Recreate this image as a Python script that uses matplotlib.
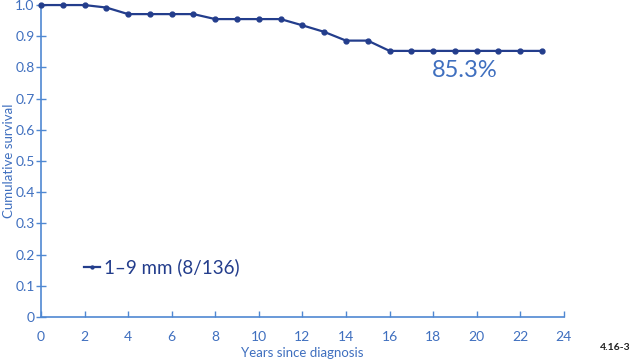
import matplotlib
matplotlib.use("Agg")
import matplotlib.pyplot as plt

years = list(range(0, 24))
survival = [1.0, 1.0, 1.0, 0.992, 0.971, 0.971, 0.971, 0.971, 0.955, 0.955, 0.955, 0.955,
            0.935, 0.914, 0.886, 0.886, 0.853, 0.853, 0.853, 0.853, 0.853, 0.853, 0.853, 0.853]
series_label = "1–9 mm (8/136)"
final_label = "85.3%"
x_ticks = list(range(0, 25, 2))
y_ticks = [0, 0.1, 0.2, 0.3, 0.4, 0.5, 0.6, 0.7, 0.8, 0.9, 1.0]
y_tick_labels = ["0", "0.1", "0.2", "0.3", "0.4", "0.5", "0.6", "0.7", "0.8", "0.9", "1.0"]

plt.rcParams['font.family'] = ['Lato', 'DejaVu Sans']

line_col = "#233d8c"
text_col = "#3f6fbf"
axis_col = "#4f88d2"

fig = plt.figure(figsize=(6.4, 3.61), dpi=100)
ax = fig.add_axes([0.064, 0.122, 0.817, 0.864])

ax.plot(years, survival, color=line_col, lw=1.6, marker='o', ms=3.5,
        label=series_label, clip_on=False, zorder=3)

ax.set_xlim(0, 24)
ax.set_ylim(0, 1.0)
ax.set_xticks(x_ticks)
ax.set_yticks(y_ticks)
ax.set_yticklabels(y_tick_labels)

for s in ['top', 'right']:
    ax.spines[s].set_visible(False)
for s in ['left', 'bottom']:
    ax.spines[s].set_color(axis_col)
    ax.spines[s].set_linewidth(1.2)

ax.tick_params(axis='x', direction='in', length=4, width=1, color=axis_col,
               labelcolor=text_col, labelsize=10, pad=10)
ax.tick_params(axis='y', direction='inout', length=7, width=1, color=axis_col,
               labelcolor=text_col, labelsize=10, pad=1)

ax.set_xlabel("Years since diagnosis", color=text_col, fontsize=9.5, labelpad=2)
ax.xaxis.set_label_coords(0.5, -0.095)
ax.set_ylabel("Cumulative survival", color=text_col, fontsize=9.5, labelpad=2)
ax.yaxis.set_label_coords(-0.05, 0.5)

ax.text(19.45, 0.79, final_label, color=text_col, fontsize=17, ha='center', va='center')

leg = ax.legend(loc='center left', bbox_to_anchor=(0.082, 0.158), frameon=False,
                handlelength=0.85, handletextpad=0.2, fontsize=13.5, markerscale=0.6,
                labelcolor=line_col, borderpad=0, borderaxespad=0)

fig.text(0.985, 0.025, "4.16-3", fontsize=7.5, fontweight='bold', ha='right', va='bottom', color='#222222')

fig.savefig("out.png", dpi=100)
